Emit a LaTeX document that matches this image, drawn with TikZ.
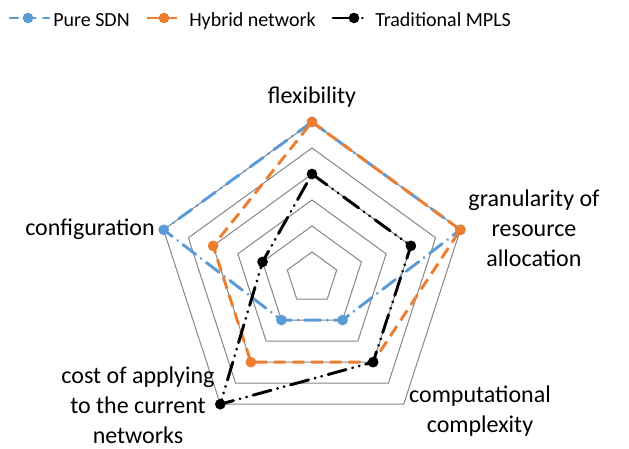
\documentclass[tikz,border=0pt]{standalone}
\usepackage{fontspec}
\setmainfont{Carlito}
\usetikzlibrary{positioning}
\definecolor{sdnblue}{RGB}{91,155,213}
\definecolor{hyborange}{RGB}{237,125,49}
\definecolor{ringgray}{RGB}{134,134,134}

\begin{document}
\begin{tikzpicture}[x=0.75pt,y=0.75pt]
		\tikzstyle{ring} = [draw=ringgray, line width=0.75pt]
		\tikzstyle{Dot} = [circle, inner sep=0pt, minimum size=8pt]
		\tikzstyle{axislabel} = [align=center, inner sep=0pt, anchor=base, font=\fontsize{18}{22.5}\selectfont]
		\tikzstyle{legendtext} = [inner sep=0pt, anchor=base west, font=\fontsize{15}{18}\selectfont]
		\tikzstyle{sdnline} = [sdnblue, line width=2.2pt, line cap=round, dash pattern=on 12pt off 5pt on 0.1pt off 5pt]
		\tikzstyle{hybline} = [hyborange, line width=2.2pt, dash pattern=on 9pt off 5pt]
		\tikzstyle{mplsline} = [black, line width=2.2pt, line cap=round, dash pattern=on 14pt off 5pt on 0.1pt off 5pt on 0.1pt off 5pt]
		
		\useasboundingbox (0,0) rectangle (629,449);
		
		% grid rings
		\begin{scope}[shift={(312,171)}]
		\foreach \k in {1,...,6}
		\draw [ring] (90:26*\k) -- (18:26*\k) -- (-54:26*\k) -- (-126:26*\k) -- (162:26*\k) -- cycle;
		
		% data points
		\coordinate (s1) at (90:156);
		\coordinate (s2) at (18:156);
		\coordinate (s3) at (-54:52);
		\coordinate (s4) at (-126:52);
		\coordinate (s5) at (162:156);
		
		\coordinate (h1) at (90:156);
		\coordinate (h2) at (18:156);
		\coordinate (h3) at (-54:104);
		\coordinate (h4) at (-126:104);
		\coordinate (h5) at (162:104);
		
		\coordinate (m1) at (90:104);
		\coordinate (m2) at (18:104);
		\coordinate (m3) at (-54:104);
		\coordinate (m4) at (-126:156);
		\coordinate (m5) at (162:52);
		\end{scope}
		
		\draw [sdnline] (s1) -- (s2) -- (s3) -- (s4) -- (s5) -- cycle;
		\foreach \p in {s1,s2,s3,s4,s5}
		\node [Dot, fill=sdnblue] at (\p) {};
		
		\draw [hybline] (h1) -- (h2) -- (h3) -- (h4) -- (h5) -- cycle;
		\foreach \p in {h1,h2,h3,h4,h5}
		\node [Dot, fill=hyborange] at (\p) {};
		
		\draw [mplsline] (m1) -- (m2) -- (m3) -- (m4) -- (m5) -- cycle;
		\foreach \p in {m1,m2,m3,m4,m5}
		\node [Dot, fill=black] at (\p) {};
		
		% axis labels (base = last line)
		\node (flex) [axislabel] at (312,345) {flexibility};
		\node (gran) [axislabel] at (534,182) {granularity of\\resource\\allocation};
		\node (comp) [axislabel] at (480,16) {computational\\complexity};
		\node (cost) [axislabel] at (138,5) {cost of applying\\to the current\\networks};
		\node (conf) [axislabel] at (90,213) {configuration};
		
		% legend
		\coordinate (ls1) at (10,431);
		\coordinate (ls2) at (49,431);
		\draw [sdnline, dash pattern=on 6pt off 8pt on 5pt] (ls1) -- (ls2);
		\node (lsdn) [Dot, fill=sdnblue] at (28,431) {};
		\node (tsdn) [legendtext] at (53,422) {Pure SDN};
		
		\coordinate (lh1) at (147,431);
		\coordinate (lh2) at (177,431);
		\draw [hybline] (lh1) -- (lh2);
		\node (lhyb) [Dot, fill=hyborange] at (164,431) {};
		\node (thyb) [legendtext] at (189,422) {Hybrid network};
		
		\coordinate (lm1) at (333,431);
		\coordinate (lm2) at (367,431);
		\draw [mplsline, dash pattern=on 17pt off 5pt on 0.1pt off 20pt] (lm1) -- (lm2);
		\node (lmpls) [Dot, fill=black] at (354,431) {};
		\node (tmpls) [legendtext] at (375,422) {Traditional MPLS};
\end{tikzpicture}
\end{document}
